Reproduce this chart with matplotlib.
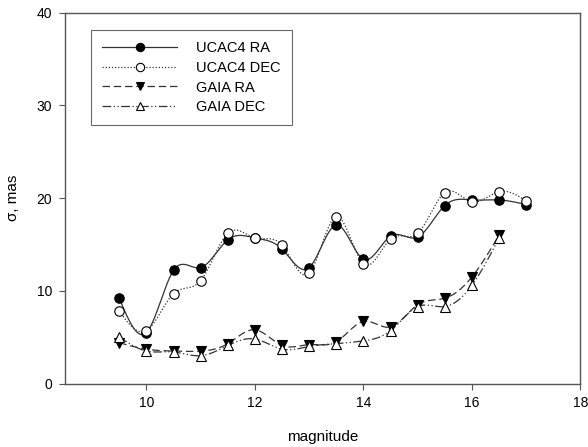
import numpy as np
import matplotlib
matplotlib.use("Agg")
import matplotlib.pyplot as plt
from matplotlib.lines import Line2D

plt.rcParams['font.family'] = ['Liberation Sans', 'DejaVu Sans']

mag = [9.5, 10, 10.5, 11, 11.5, 12, 12.5, 13, 13.5, 14, 14.5, 15, 15.5, 16, 16.5, 17]
ucac_ra = [9.2, 5.5, 12.2, 12.5, 15.5, 15.7, 14.5, 12.5, 17.1, 13.4, 15.9, 15.8, 19.2, 19.8, 19.8, 19.3]
ucac_dec = [7.8, 5.7, 9.7, 11.1, 16.2, 15.7, 14.9, 11.9, 18.0, 12.9, 15.6, 16.2, 20.6, 19.6, 20.7, 19.7]
mag_gaia = mag[:15]
gaia_ra = [4.4, 3.7, 3.5, 3.5, 4.3, 5.8, 4.1, 4.2, 4.5, 6.7, 6.1, 8.5, 9.2, 11.5, 16.0]
gaia_dec = [5.0, 3.5, 3.4, 3.0, 4.1, 4.8, 3.7, 4.0, 4.3, 4.6, 5.7, 8.3, 8.3, 10.6, 15.7]


def spline(x, y, n=400):
    # natural cubic spline, only for drawing the smooth connecting curve
    x = np.asarray(x, float)
    y = np.asarray(y, float)
    k = len(x)
    h = np.diff(x)
    A = np.zeros((k, k))
    b = np.zeros(k)
    A[0, 0] = A[-1, -1] = 1
    for i in range(1, k - 1):
        A[i, i - 1] = h[i - 1]
        A[i, i] = 2 * (h[i - 1] + h[i])
        A[i, i + 1] = h[i]
        b[i] = 6 * ((y[i + 1] - y[i]) / h[i] - (y[i] - y[i - 1]) / h[i - 1])
    M = np.linalg.solve(A, b)
    xs = np.linspace(x[0], x[-1], n)
    idx = np.clip(np.searchsorted(x, xs) - 1, 0, k - 2)
    x0, x1 = x[idx], x[idx + 1]
    hh = x1 - x0
    t0, t1 = x1 - xs, xs - x0
    ys = (M[idx] * t0**3 + M[idx + 1] * t1**3) / (6 * hh) \
        + (y[idx] / hh - M[idx] * hh / 6) * t0 + (y[idx + 1] / hh - M[idx + 1] * hh / 6) * t1
    return xs, ys


fig = plt.figure(figsize=(5.88, 4.47), dpi=100)
ax = fig.add_axes([65 / 588, 1 - 383.5 / 447, 515.5 / 588, 370.8 / 447])

lc = '#333333'
series = [
    (mag, ucac_ra, '-', 'o', 'black', 'UCAC4 RA'),
    (mag, ucac_dec, (0, (1, 1.5)), 'o', 'white', 'UCAC4 DEC'),
    (mag_gaia, gaia_ra, (0, (6, 3)), 'v', 'black', 'GAIA RA'),
    (mag_gaia, gaia_dec, (0, (7, 2, 1, 2, 1, 2)), '^', 'white', 'GAIA DEC'),
]
handles = []
for x, y, ls, mk, fc, lab in series:
    xs, ys = spline(x, y)
    ax.plot(xs, ys, color=lc, ls=ls, lw=0.9, zorder=2)
    ax.plot(x, y, ls='none', marker=mk, ms=6.8, mfc=fc, mec='black', mew=0.8, zorder=3)
    handles.append(Line2D([], [], color=lc, ls=ls, lw=0.9, marker=mk, ms=6,
                          mfc=fc, mec='black', mew=0.8, label=lab))

ax.set_xlim(8.5, 18)
ax.set_ylim(0, 40)
ax.set_xticks([10, 12, 14, 16, 18])
ax.set_yticks([0, 10, 20, 30, 40])
ax.tick_params(direction='out', length=4.3, width=0.8, color='#555555',
               labelsize=10, pad=5)
for s in ax.spines.values():
    s.set_color('#555555')
    s.set_linewidth(1.0)
ax.set_xlabel('magnitude', fontsize=11, labelpad=14)
ax.set_ylabel('σ, mas', fontsize=11, labelpad=12)

leg = ax.legend(handles=handles, loc='upper left', bbox_to_anchor=(25.7 / 515.5, 1 - 17.3 / 370.8),
                handlelength=5.2, fontsize=10.5, frameon=True, fancybox=False,
                borderpad=0.75, borderaxespad=0, labelspacing=0.4, handletextpad=1.3)
leg.get_frame().set_edgecolor('#444444')
leg.get_frame().set_linewidth(0.8)

fig.savefig('out.png', dpi=100)
